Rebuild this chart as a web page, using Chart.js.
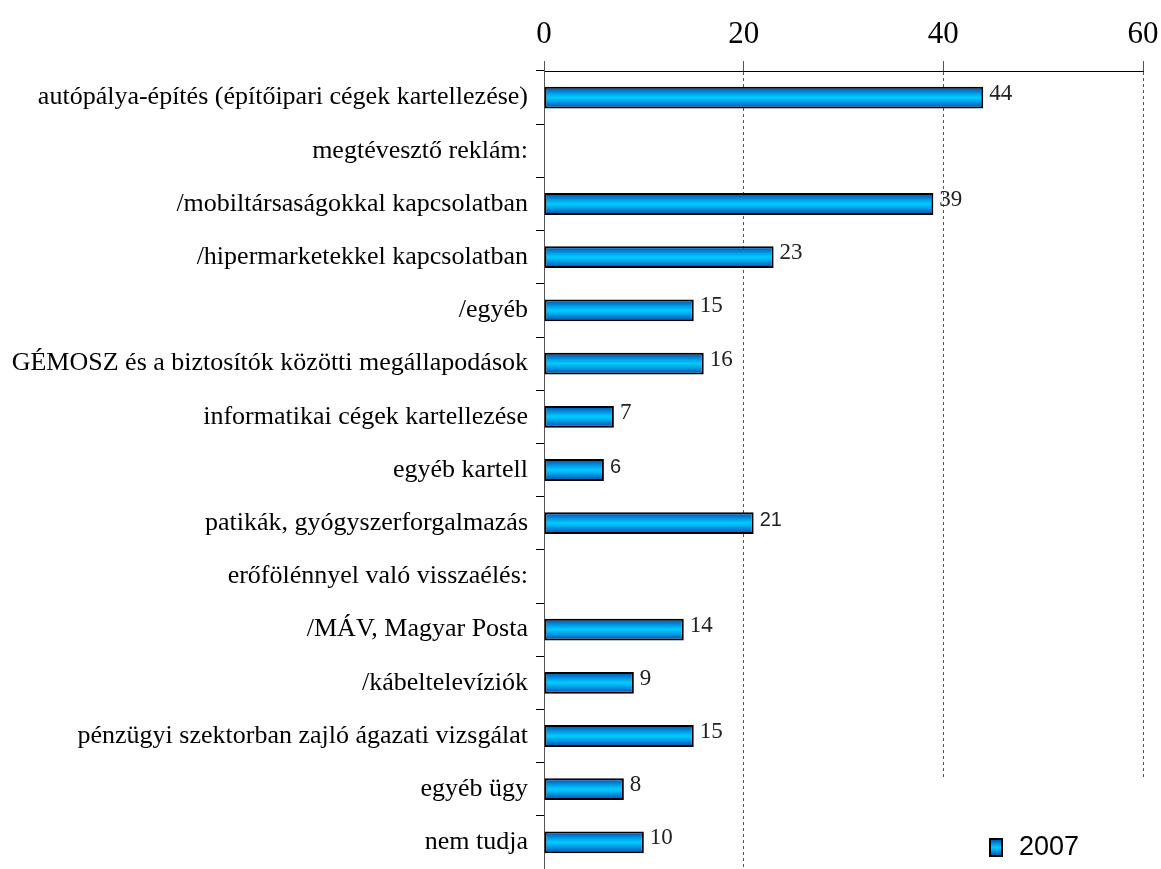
<!DOCTYPE html>
<html>
<head>
<meta charset="utf-8">
<script src="https://cdn.jsdelivr.net/npm/chart.js@4"></script>
<style>
  html, body { margin: 0; padding: 0; background: #fff; }
  #wrap { width: 1161px; height: 869px; }
</style>
</head>
<body>
<div id="wrap"><canvas id="chart" width="1161" height="869"></canvas></div>
<script>
const categories = [
    'autópálya-építés (építőipari cégek kartellezése)',
    'megtévesztő reklám:',
    '/mobiltársaságokkal kapcsolatban',
    '/hipermarketekkel kapcsolatban',
    '/egyéb',
    'GÉMOSZ és a biztosítók közötti megállapodások',
    'informatikai cégek kartellezése',
    'egyéb kartell',
    'patikák, gyógyszerforgalmazás',
    'erőfölénnyel való visszaélés:',
    '/MÁV, Magyar Posta',
    '/kábeltelevíziók',
    'pénzügyi szektorban zajló ágazati vizsgálat',
    'egyéb ügy',
    'nem tudja'
];
const values2007 = [44, null, 39, 23, 15, 16, 7, 6, 21, null, 14, 9, 15, 8, 10];
const xTicks = [0, 20, 40, 60];
const seriesName = '2007';

// labels that the original shows in a sans font
const sansLabels = [7, 8];

const serif = '"Liberation Serif", "Times New Roman", serif';
const sans = '"Liberation Sans", Arial, sans-serif';

function barGradient(ctx, y0, y1) {
    const g = ctx.createLinearGradient(0, y0, 0, y1);
    g.addColorStop(0, '#004e9c');
    g.addColorStop(0.18, '#0078d0');
    g.addColorStop(0.35, '#00a8ec');
    g.addColorStop(0.5, '#00ccff');
    g.addColorStop(0.65, '#00a8ec');
    g.addColorStop(0.82, '#0078d0');
    g.addColorStop(1, '#004e9c');
    return g;
}

const valueLabels = {
    id: 'valueLabels',
    afterDatasetsDraw(chart) {
        const ctx = chart.ctx;
        const meta = chart.getDatasetMeta(0);
        ctx.save();
        ctx.fillStyle = '#222';
        ctx.textBaseline = 'middle';
        ctx.textAlign = 'left';
        meta.data.forEach((bar, i) => {
            const v = values2007[i];
            if (v === null) return;
            const isSans = sansLabels.includes(i);
            ctx.font = isSans ? '20px ' + sans : '23px ' + serif;
            ctx.fillText(String(v), bar.x + 6, bar.y - (isSans ? 3 : 4));
        });
        ctx.restore();
    }
};

const legendBox = {
    id: 'legendBox',
    afterDraw(chart) {
        const ctx = chart.ctx;
        ctx.save();
        ctx.fillStyle = '#fff';
        ctx.fillRect(900, 780, 261, 89);
        ctx.fillStyle = barGradient(ctx, 839, 856);
        ctx.fillRect(990, 839, 12, 17);
        ctx.strokeStyle = '#000';
        ctx.lineWidth = 2;
        ctx.strokeRect(990, 839, 12, 17);
        ctx.fillStyle = '#000';
        ctx.font = '27px ' + sans;
        ctx.textBaseline = 'middle';
        ctx.fillText(seriesName, 1019, 848);
        ctx.restore();
    }
};

new Chart(document.getElementById('chart'), {
    type: 'bar',
    data: {
        labels: categories,
        datasets: [{
            label: seriesName,
            data: values2007,
            backgroundColor: (c) => {
                const chart = c.chart;
                if (!chart.chartArea || c.dataIndex === undefined) return '#00ccff';
                const y = chart.scales.y.getPixelForValue(c.dataIndex);
                return barGradient(chart.ctx, y - 11, y + 11);
            },
            borderColor: '#000',
            borderWidth: 2,
            borderSkipped: false,
            barPercentage: 0.41,
            categoryPercentage: 1
        }]
    },
    options: {
        indexAxis: 'y',
        responsive: false,
        animation: false,
        layout: { padding: { left: 0, right: 18, top: 0, bottom: 0 } },
        plugins: {
            legend: { display: false },
            tooltip: { enabled: false }
        },
        scales: {
            x: {
                position: 'top',
                min: 0,
                max: 60,
                afterBuildTicks: (s) => { s.ticks = xTicks.map(v => ({ value: v })); },
                afterFit: (s) => {
                    s.height = 71;
                    s.paddingLeft = 0;
                    s.paddingRight = 0;
                },
                ticks: {
                    color: '#000',
                    padding: 8,
                    font: { family: serif, size: 31 }
                },
                grid: {
                    color: '#555',
                    lineWidth: 1,
                    tickLength: 10,
                    drawTicks: true
                },
                border: { display: true, color: '#000', width: 1, dash: [3, 3] }
            },
            y: {
                afterFit: (s) => {
                    s.width = 544;
                    s.paddingTop = 0;
                    s.paddingBottom = 0;
                },
                ticks: {
                    color: '#000',
                    padding: 8,
                    autoSkip: false,
                    font: { family: serif, size: 26 }
                },
                grid: {
                    drawOnChartArea: false,
                    color: '#000',
                    tickLength: 8
                },
                border: { display: true, color: '#555', width: 1 }
            }
        }
    },
    plugins: [valueLabels, legendBox]
});
</script>
</body>
</html>
